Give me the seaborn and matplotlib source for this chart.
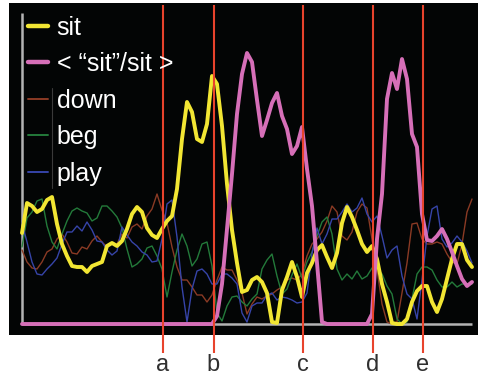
#!/usr/bin/env python3
"""Word-response traces: 'sit' vs averaged template, plus competitor words."""

import numpy as np
import pandas as pd
import seaborn as sns
import matplotlib.pyplot as plt
from matplotlib.lines import Line2D

# time steps (arbitrary units), heights above baseline (arbitrary units)
t = np.arange(91)

sit = [91, 121, 118, 112, 115, 124, 127, 100, 80, 68,
       58, 57, 57, 52, 58, 60, 62, 78, 81, 78,
       83, 95, 110, 117, 112, 96, 89, 86, 95, 103,
       108, 135, 185, 222, 212, 185, 182, 200, 248, 240,
       198, 140, 94, 61, 32, 34, 44, 47, 42, 31,
       2, 1, 34, 47, 62, 47, 27, 51, 61, 74,
       79, 67, 56, 71, 101, 117, 107, 94, 80, 72,
       78, 65, 40, 22, 1, 0, 0, 5, 22, 33,
       38, 38, 22, 12, 25, 45, 65, 80, 80, 64, 57]

template = [0] * 39 + [
    8, 40, 95, 150, 210, 250, 271, 262, 224, 188,
    204, 221, 231, 208, 195, 170, 178, 197, 155, 118,
    61, 2, 0, 0, 0, 0, 0, 0, 0, 0,
    0, 10, 85, 130, 225, 251, 235, 265, 245, 190,
    177, 110, 84, 83, 88, 95, 85, 72, 58, 45, 38, 42]

down = [74, 62, 56, 55, 62, 72, 75, 85, 90, 82,
        71, 70, 77, 75, 83, 88, 82, 77, 81, 80,
        90, 86, 97, 100, 95, 108, 115, 130, 114, 101,
        77, 57, 44, 44, 37, 29, 29, 22, 29, 44,
        57, 54, 54, 44, 31, 10, 20, 27, 25, 28,
        30, 34, 37, 44, 46, 44, 50, 68, 80, 85,
        92, 103, 118, 112, 88, 84, 92, 112, 120, 116,
        85, 55, 20, 2, 0, 2, 31, 61, 100, 101,
        85, 80, 80, 82, 80, 70, 62, 60, 80, 112, 125]

beg = [77, 106, 112, 123, 125, 98, 82, 75, 90, 103,
       113, 116, 113, 111, 103, 106, 118, 118, 113, 107,
       96, 75, 57, 60, 65, 76, 78, 68, 55, 27,
       52, 74, 90, 78, 58, 65, 80, 82, 58, 11,
       3, 18, 27, 28, 22, 18, 25, 30, 55, 64,
       70, 48, 30, 35, 49, 60, 46, 62, 72, 88,
       102, 107, 90, 55, 44, 50, 45, 53, 45, 48,
       56, 56, 50, 38, 30, 5, 0, 2, 25, 50,
       57, 57, 54, 44, 37, 37, 42, 37, 40, 40, 40]

play = [101, 82, 62, 50, 49, 55, 60, 66, 80, 92,
        92, 98, 93, 102, 94, 83, 82, 74, 69, 73,
        97, 89, 82, 78, 72, 69, 62, 63, 85, 120,
        124, 87, 37, 2, 35, 53, 55, 50, 40, 40,
        50, 50, 46, 40, 11, 2, 18, 21, 21, 29,
        31, 24, 27, 26, 24, 21, 22, 31, 70, 96,
        80, 90, 105, 105, 112, 120, 112, 116, 126, 110,
        102, 108, 88, 66, 74, 78, 48, 30, 25, 5,
        44, 88, 115, 118, 85, 77, 81, 88, 82, 73, 61]

EVENTS = ["a", "b", "c", "d", "e"]
EVENT_T = [28.1, 38.3, 56.1, 70.1, 80.1]

SERIES = [  # label, values, colour, width
    ("down", down, "#8a3a24", 1.0),
    ("beg", beg, "#237a3a", 1.0),
    ("play", play, "#3644a8", 1.0),
    ("sit", sit, "#f2e633", 2.8),
    ("< \u201csit\u201d/sit >", template, "#d66fb8", 2.8),
]

sns.set_theme(style="white")
plt.rcParams["font.family"] = ["Liberation Sans", "DejaVu Sans"]

fig = plt.figure(figsize=(4.78, 3.77), dpi=100)
ax = fig.add_axes([9 / 478, 42 / 377, 469 / 478, 332 / 377])
ax.set_facecolor("#030505")
for s in ax.spines.values():
    s.set_visible(False)
ax.set_xticks([])
ax.set_yticks([])
ax.set_xlim(-2.6, 91.2)
ax.set_ylim(-11, 321)

# frame lines of the trace panel
ax.vlines(0, 0, 311, color="#b4b4b4", lw=1.8, zorder=1)
ax.hlines(0, 0, 90, color="#b4b4b4", lw=1.8, zorder=1)

df = pd.DataFrame({"t": t})
for lab, vals, col, lw in SERIES:
    df[lab] = vals
    sns.lineplot(data=df, x="t", y=lab, color=col, lw=lw, ax=ax, zorder=3,
                 solid_joinstyle="round", solid_capstyle="round")
ax.set_xlabel("")
ax.set_ylabel("")

for name, et in zip(EVENTS, EVENT_T):
    ax.vlines(et, -29, 319, color="#e8432c", lw=1.5, zorder=5, clip_on=False)
    ax.text(et, -41, name, ha="center", va="center", fontsize=17,
            color="#303030", clip_on=False)

order = [3, 4, 0, 1, 2]
handles = [Line2D([], [], color=SERIES[i][2], lw=SERIES[i][3] + 0.4) for i in order]
labels = [SERIES[i][0] for i in order]
leg = ax.legend(handles, labels, loc="upper left", bbox_to_anchor=(0.04, 0.962),
                frameon=False, fontsize=18, labelcolor="white", borderpad=0,
                borderaxespad=0, handlelength=0.8, handletextpad=0.36,
                labelspacing=0.5)
leg.set_zorder(6)
ax.plot([0.0917, 0.0917], [0.443, 0.744], transform=ax.transAxes,
        color="#3a3a3a", lw=0.8, zorder=6)

fig.savefig("out.png", dpi=100, facecolor="white")
